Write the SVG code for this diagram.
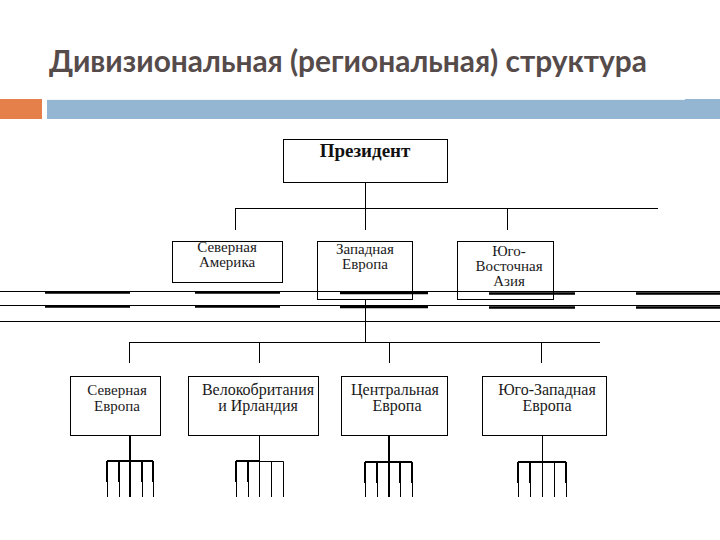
<svg xmlns="http://www.w3.org/2000/svg" width="720" height="540" viewBox="0 0 720 540">
<style>
.box{fill:#fff;stroke:#000;stroke-width:1}
.open{fill:none;stroke:#000;stroke-width:1}
.ln{stroke:#000;stroke-width:1;fill:none}
.thk{stroke:#000;stroke-width:2.5;fill:none}
.fk{stroke:#000;stroke-width:2;fill:none}
</style>
<defs>
</defs>
<rect width="720" height="540" fill="#fff"/>
<text x="49" y="72" font-family="Lato,'Open Sans','Liberation Sans',sans-serif" font-size="31" font-weight="bold" fill="#564b4b" textLength="598" lengthAdjust="spacingAndGlyphs">Дивизиональная (региональная) структура</text>
<rect x="0" y="99" width="42" height="20" fill="#e5804a"/>
<rect x="47" y="99" width="673" height="20" fill="#94b6d2"/>
<line x1="47" y1="99.5" x2="685" y2="99.5" stroke="#f4f7fa" stroke-width="1"/>

<g id="connectors">
  <path class="ln" d="M365.5 182V208M235.5 208.5H658M235.5 208V230M365.5 208V230M507.5 208V230"/>
  <path class="ln" d="M0 291.5H720M0 305.5H720M0 321.5H720"/>
  <path class="thk" d="M45 292.5H130M195 292.5H280M340 293H428M489 293.5H575M636 293.5H720"/>
  <path class="thk" d="M45 306.5H130M195 306.5H280M340 307H428M489 307.5H575M636 307.5H720"/>
  <path class="ln" d="M365.5 300V342M129.5 342.5H600M129.5 342V363M259.5 342V363M389.5 342V363M541.5 342V363"/>
  <path class="fk" d="M130 436V497M107 461H153M107 461V482M119 461V482M142 461V482M153 461V482"/>
  <path class="ln" d="M107.5 482V497M119.5 482V497M142.5 482V497M153.5 482V497"/>
  <path class="ln" d="M259.5 436V497M236.5 497V461.5H283.5V497M248.5 461V497M271.5 461V497"/>
  <path class="fk" d="M236 461V482M248 461V482M236 461H260"/>
  <path class="fk" d="M389 436V497M365 462H412M365 462V483M377 462V483M400 462V483M412 462V483"/>
  <path class="ln" d="M365.5 483V497M377.5 483V497M400.5 483V497M412.5 483V497"/>
  <path class="ln" d="M542.5 436V497M518.5 497V462.5H566.5V497M530.5 462V497M554.5 462V497"/>
  <path class="fk" d="M518 462V483M530 462V483M566 462V483M518 462H566"/>
</g>

<g font-family="'Liberation Serif','Times New Roman','DejaVu Serif',serif" font-size="15" fill="#1a1a1a" text-anchor="middle">
<g id="president">
  <rect class="box" x="283.5" y="139.5" width="164" height="43"/>
  <text x="365" y="157" font-size="19" font-weight="bold" fill="#111">Президент</text>
</g>
<g id="north-america">
  <rect class="box" x="172.5" y="241.5" width="110" height="41"/>
  <text x="227" y="252">Северная</text>
  <text x="227" y="267">Америка</text>
</g>
<g id="western-europe">
  <rect class="open" x="317.5" y="241.5" width="95" height="58"/>
  <text x="365" y="254">Западная</text>
  <text x="365" y="269">Европа</text>
</g>
<g id="southeast-asia">
  <rect class="open" x="457.5" y="241.5" width="96" height="58"/>
  <text x="509" y="256">Юго-</text>
  <text x="509" y="271">Восточная</text>
  <text x="509" y="286">Азия</text>
</g>
<g id="northern-europe">
  <rect class="box" x="70.5" y="376.5" width="90" height="59"/>
  <text x="117" y="395">Северная</text>
  <text x="117" y="411">Европа</text>
</g>
<g id="gb-ireland">
  <rect class="box" x="188.5" y="376.5" width="130" height="59"/>
  <text x="258" y="395" font-size="16">Велокобритания</text>
  <text x="258" y="411" font-size="16">и Ирландия</text>
</g>
<g id="central-europe">
  <rect class="box" x="341.5" y="376.5" width="106" height="59"/>
  <text x="395" y="395" font-size="16">Центральная</text>
  <text x="397" y="411" font-size="16">Европа</text>
</g>
<g id="southwest-europe">
  <rect class="box" x="482.5" y="376.5" width="124" height="59"/>
  <text x="547" y="395" font-size="16">Юго-Западная</text>
  <text x="547" y="411" font-size="16">Европа</text>
</g>
</g>
</svg>
